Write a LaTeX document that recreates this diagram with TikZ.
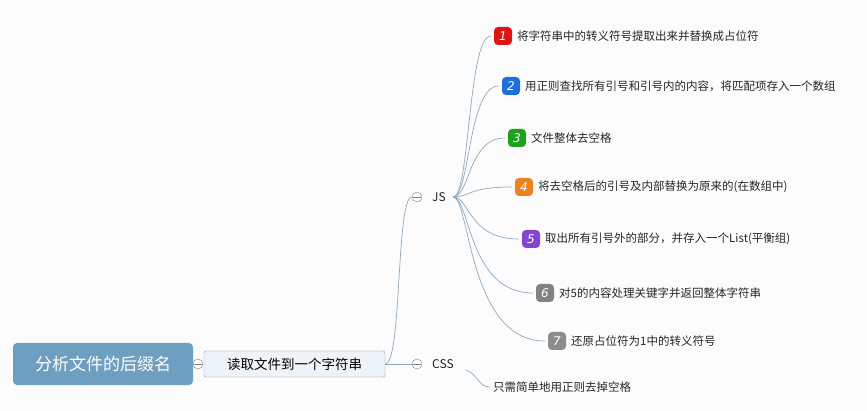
\documentclass[tikz,border=0pt]{standalone}
\usepackage{fontspec}
\setmainfont{Noto Sans CJK SC}
\newfontfamily\numfont{DejaVu Sans}
\begin{document}
\begin{tikzpicture}[x=1pt,y=-1pt,
  line/.style={draw={rgb,255:red,140;green,170;blue,195}, line width=0.7pt},
  ic/.style={rounded corners=4pt, minimum size=18pt, inner sep=0pt, text=white, font=\numfont\fontsize{12}{12}\selectfont\slshape},
  itm/.style={anchor=west, inner sep=0pt, font=\fontsize{11.5}{13}\selectfont, text=black!85},
  col/.style={circle, draw=gray, fill=white, minimum size=10pt, inner sep=0pt}]
\useasboundingbox (0,0) rectangle (867,411);
\fill[white!98!gray] (0,0) rectangle (867,411);
\node[fill={rgb,255:red,111;green,159;blue,192}, rounded corners=4pt, minimum width=180pt, minimum height=42pt, text=white, font=\fontsize{17}{19}\selectfont] (root) at (103,364) {分析文件的后缀名};
\node[draw={rgb,255:red,122;green,154;blue,181}, fill={rgb,255:red,238;green,243;blue,248}, rounded corners=2pt, minimum width=181pt, minimum height=26pt, font=\fontsize{13.5}{15}\selectfont] (read) at (294.5,364) {读取文件到一个字符串};
\node[col] (c0) at (198,364) {};
\draw[gray] (194,364) -- (202,364);
\node[col] (cjs) at (417,197) {};
\node[col] (ccss) at (417,364) {};
\draw[gray] (413,197) -- (421,197) (413,364) -- (421,364);
\node[itm, font=\fontsize{12}{13}\selectfont] (js) at (432,197) {JS};
\node[itm, font=\fontsize{12}{13}\selectfont] (css) at (432,364) {CSS};
\draw[line] (read.east) -- (ccss.west);
\draw[line] (read.east) .. controls (402,364) and (396,197) .. (cjs.west);
\node[itm] (cssc) at (493,387) {只需简单地用正则去掉空格};
\coordinate (cs0) at (466,370);
\draw[line] (cs0) .. controls (478,374) and (478,387) .. (490,387);
\coordinate (jsr) at (453,197);
\foreach \n/\x/\y/\c/\t in {
 1/503/36/{rgb,255:red,220;green,20;blue,20}/将字符串中的转义符号提取出来并替换成占位符,
 2/511/86/{rgb,255:red,30;green,110;blue,220}/用正则查找所有引号和引号内的内容，将匹配项存入一个数组,
 3/517/138/{rgb,255:red,30;green,160;blue,30}/文件整体去空格,
 4/524/187/{rgb,255:red,235;green,130;blue,30}/将去空格后的引号及内部替换为原来的(在数组中),
 5/531/239/{rgb,255:red,130;green,70;blue,210}/取出所有引号外的部分，并存入一个List(平衡组),
 6/545/293/{rgb,255:red,130;green,130;blue,130}/对5的内容处理关键字并返回整体字符串,
 7/557/341/{rgb,255:red,140;green,140;blue,140}/还原占位符为1中的转义符号}{
  \node[ic, fill=\c] (i\n) at (\x,\y) {\n};
  \node[itm] (t\n) at (\x+14,\y) {\t};
  \draw[line] (jsr) .. controls (470,197) and (468,\y) .. ([xshift=-3pt]i\n.west);
}
\end{tikzpicture}
\end{document}
